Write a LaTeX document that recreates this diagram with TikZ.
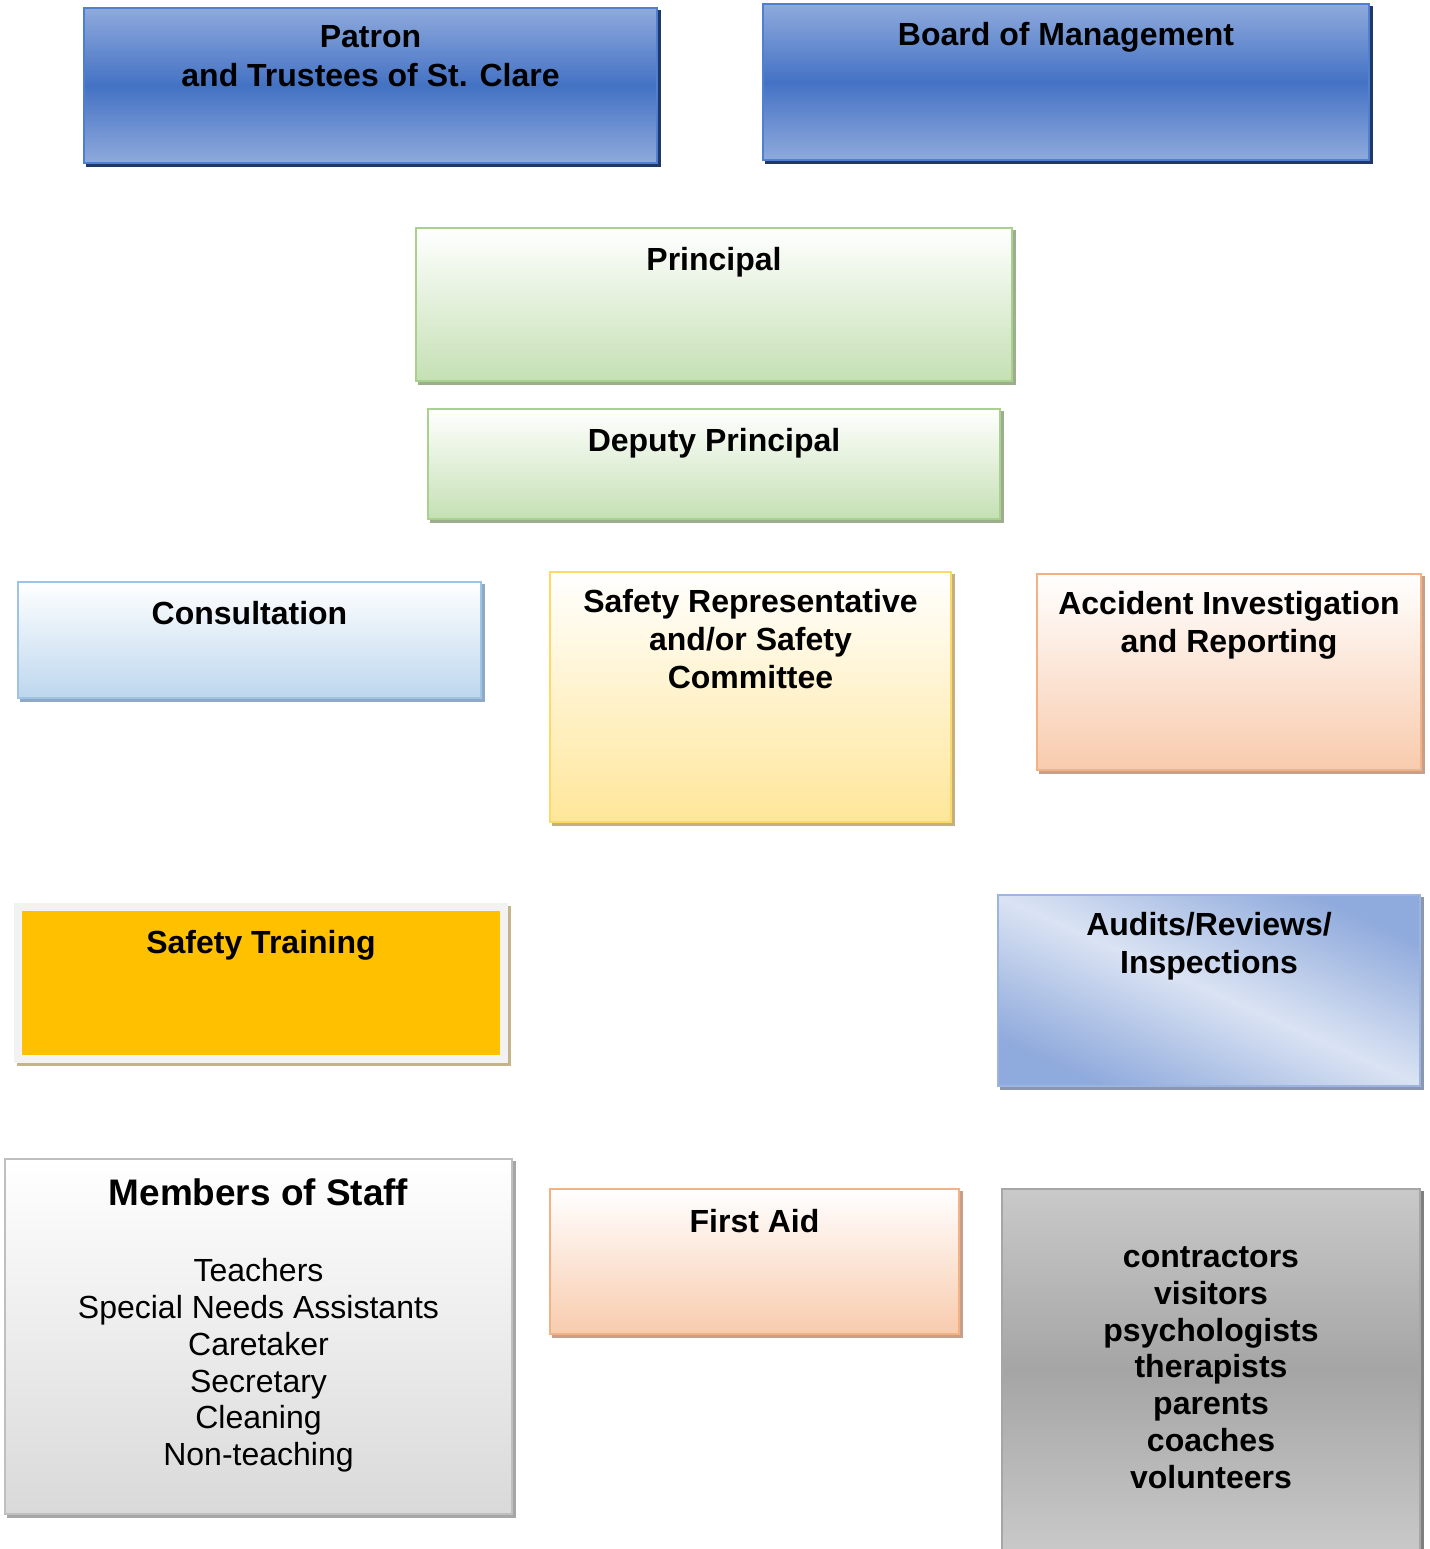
\documentclass[tikz,border=0pt]{standalone}
\usepackage{fontspec}
\setmainfont{Liberation Sans}
\usetikzlibrary{positioning,shadows}

\definecolor{blueLight}{HTML}{8FAADC}
\definecolor{blueMid}{HTML}{4472C4}
\definecolor{blueLine}{HTML}{4F7FD3}
\definecolor{blueShadow}{HTML}{203864}
\definecolor{greenFill}{HTML}{C5E0B4}
\definecolor{greenLine}{HTML}{A9D18E}
\definecolor{greenShadow}{HTML}{9CAE8E}
\definecolor{skyFill}{HTML}{BDD7EE}
\definecolor{skyLine}{HTML}{9DC3E6}
\definecolor{skyShadow}{HTML}{90A9C3}
\definecolor{yellowFill}{HTML}{FFE699}
\definecolor{yellowLine}{HTML}{FFD966}
\definecolor{yellowShadow}{HTML}{C2B07E}
\definecolor{peachFill}{HTML}{F8CBAD}
\definecolor{peachLine}{HTML}{F4B183}
\definecolor{peachShadow}{HTML}{C6A08A}
\definecolor{goldFill}{HTML}{FFC000}
\definecolor{goldFrame}{HTML}{F2F2F2}
\definecolor{goldShadow}{HTML}{C4B48A}
\definecolor{paleBlue}{HTML}{DAE3F3}
\definecolor{auditLine}{HTML}{9CB4E0}
\definecolor{auditShadow}{HTML}{8C97AD}
\definecolor{greyFill}{HTML}{D9D9D9}
\definecolor{greyLine}{HTML}{BFBFBF}
\definecolor{greyShadow}{HTML}{A6A6A6}
\definecolor{darkTop}{HTML}{C9C9C9}
\definecolor{darkMid}{HTML}{A5A5A5}
\definecolor{darkLine}{HTML}{A6A6A6}
\definecolor{darkShadow}{HTML}{7F7F7F}

\begin{document}
\begin{tikzpicture}
[x=0.01cm, y=-0.01cm,
  boxDecorate/.style={shape=rectangle, inner sep=0pt, outer sep=0pt, line width=0.7pt},
  shadowDecorate/.style={drop shadow={shadow xshift=0.9pt, shadow yshift=-0.9pt, opacity=1, fill=#1, draw=#1}},
  blueBox/.style={boxDecorate, draw=blueLine, top color=blueLight, bottom color=blueLight, middle color=blueMid, shadowDecorate=blueShadow},
  greenBox/.style={boxDecorate, draw=greenLine, top color=white, bottom color=greenFill, shadowDecorate=greenShadow},
  skyBox/.style={boxDecorate, draw=skyLine, top color=white, bottom color=skyFill, shadowDecorate=skyShadow},
  yellowBox/.style={boxDecorate, draw=yellowLine, top color=white, bottom color=yellowFill, shadowDecorate=yellowShadow},
  peachBox/.style={boxDecorate, draw=peachLine, top color=white, bottom color=peachFill, shadowDecorate=peachShadow},
  goldBox/.style={boxDecorate, line width=2.3pt, draw=goldFrame, fill=goldFill, shadowDecorate=goldShadow},
  auditBox/.style={boxDecorate, draw=auditLine, top color=blueLight, bottom color=blueLight, middle color=paleBlue, shading angle=-24, shadowDecorate=auditShadow},
  greyBox/.style={boxDecorate, draw=greyLine, top color=white, bottom color=greyFill, shadowDecorate=greyShadow},
  darkBox/.style={boxDecorate, draw=darkLine, top color=darkTop, bottom color=darkTop, middle color=darkMid, shadowDecorate=darkShadow},
  textDecorate/.style={anchor=north, inner sep=0pt, align=center, font=\bfseries\fontsize{9.1pt}{10.7pt}\selectfont, execute at begin node=\vphantom{A}}]
\clip (0,0) rectangle (1429,1549);
%% boxes
\foreach \boxname/\x/\y/\w/\h/\boxstyle in {
  patron/370.5/85.5/573/155/blueBox,
  board/1066/82/606/156/blueBox,
  principal/714/304.5/596/153/greenBox,
  deputy/714/464/572/110/greenBox,
  consultation/249.5/640/463/116/skyBox,
  representative/750.5/697/401/250/yellowBox,
  accident/1229/672/384/196/peachBox,
  training/261/983/486/152/goldBox,
  audits/1209/990.5/422/191/auditBox,
  staff/258.5/1336.5/507/355/greyBox,
  firstaid/754.5/1261.5/409/145/peachBox,
  others/1211/1370.5/418/363/darkBox}
{
  \node (\boxname) at (\x,\y) [\boxstyle, minimum width=\w*0.01cm, minimum height=\h*0.01cm] {};
}
%% texts in the boxes
\node (patronText) [textDecorate, font=\bfseries\fontsize{9.1pt}{11pt}\selectfont, below=4.8pt of patron.north] {Patron\\and Trustees of St. Clare};
\node (boardText) [textDecorate, below=5.1pt of board.north] {Board of Management};
\node (principalText) [textDecorate, below=5.4pt of principal.north] {Principal};
\node (deputyText) [textDecorate, below=5.4pt of deputy.north] {Deputy Principal};
\node (consultationText) [textDecorate, below=5.4pt of consultation.north] {Consultation};
\node (representativeText) [textDecorate, below=4.8pt of representative.north] {Safety Representative\\and/or Safety\\Committee};
\node (accidentText) [textDecorate, below=4.8pt of accident.north] {Accident Investigation\\and Reporting};
\node (trainingText) [textDecorate, below=6.3pt of training.north] {Safety Training};
\node (auditsText) [textDecorate, below=4.8pt of audits.north] {Audits/Reviews/\\Inspections};
\node (firstaidText) [textDecorate, below=5.7pt of firstaid.north] {First Aid};
\node (staffTitle) [textDecorate, font=\bfseries\fontsize{10.5pt}{12.6pt}\selectfont, below=5.5pt of staff.north] {Members of Staff};
\node (staffList) [textDecorate, font=\fontsize{9.1pt}{10.45pt}\selectfont, below=14.5pt of staffTitle] {Teachers\\Special Needs Assistants\\Caretaker\\Secretary\\Cleaning\\Non-teaching};
\node (othersText) [textDecorate, font=\bfseries\fontsize{9.1pt}{10.45pt}\selectfont, below=16.2pt of others.north] {contractors\\visitors\\psychologists\\therapists\\parents\\coaches\\volunteers};
\end{tikzpicture}
\end{document}
